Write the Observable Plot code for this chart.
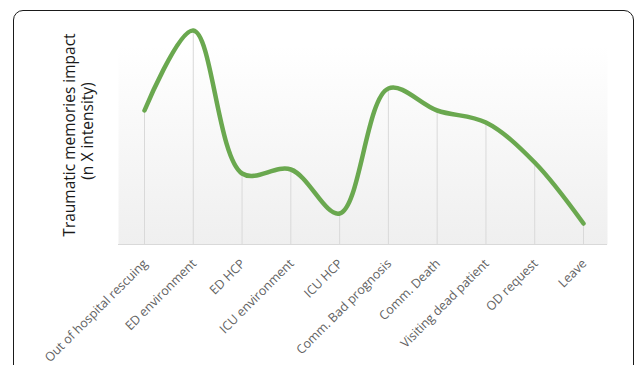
<!DOCTYPE html>
<html>
<head>
<meta charset="utf-8">
<script src="https://cdn.jsdelivr.net/npm/d3@7"></script>
<script src="https://cdn.jsdelivr.net/npm/@observablehq/plot@0.6"></script>
<style>
  html, body { margin: 0; padding: 0; background: #fff; overflow: hidden; }
  #wrap { position: relative; width: 637px; height: 365px; overflow: hidden; }
  #border { position: absolute; left: 13px; top: 10px; width: 621px; height: 420px;
            border: 1.6px solid #1a1a1a; border-radius: 10px; box-sizing: border-box; pointer-events: none; }
  #chart { position: absolute; left: 0; top: 0; }
</style>
</head>
<body>
<div id="wrap">
  <div id="chart"></div>
  <div id="border"></div>
</div>
<script>
const categories = [
  "Out of hospital rescuing", "ED environment", "ED HCP", "ICU environment", "ICU HCP",
  "Comm. Bad prognosis", "Comm. Death", "Visiting dead patient", "OD request", "Leave"
];
const impact = [134, 214, 71, 75, 31, 156, 134, 122, 82, 21];
const yTitle = ["Traumatic memories impact", "(n X intensity)"];

const data = categories.map((c, i) => ({category: c, value: impact[i]}));

const plot = Plot.plot({
  width: 637,
  height: 365,
  marginLeft: 118,
  marginRight: 30,
  marginTop: 45,
  marginBottom: 121,
  style: {background: "transparent", fontFamily: "'Open Sans', sans-serif"},
  x: {type: "point", domain: categories, range: [144, 583], padding: 0, round: false, axis: null},
  y: {domain: [0, 214], range: [244, 30], axis: null},
  marks: [
    Plot.frame({fill: "url(#panelGrad)", stroke: null}),
    Plot.ruleY([0], {stroke: "#d9d9d9", strokeWidth: 1}),
    Plot.ruleX(data, {x: "category", y1: 0, y2: "value", stroke: "#d9d9d9", strokeWidth: 1}),
    Plot.line(data, {x: "category", y: "value", curve: "catmull-rom", stroke: "#6aa84f", strokeWidth: 4.5, strokeLinecap: "round", strokeLinejoin: "round"}),
    Plot.text(data, {x: "category", y: 0, text: "category", rotate: -45, textAnchor: "end", dx: 1, dy: 17, fontSize: 12.5, fill: "#626262"}),
    Plot.text([yTitle[0]], {frameAnchor: "left", text: d => d, rotate: -90, dx: -48, dy: -10, fontSize: 15.5, fill: "#1a1a1a", textAnchor: "middle"}),
    Plot.text([yTitle[1]], {frameAnchor: "left", text: d => d, rotate: -90, dx: -30, dy: -14, fontSize: 15.5, fill: "#1a1a1a", textAnchor: "middle"})
  ]
});

const svg = d3.select(plot);
const defs = svg.insert("defs", ":first-child");
const g = defs.append("linearGradient").attr("id", "panelGrad").attr("x1", 0).attr("y1", 0).attr("x2", 0).attr("y2", 1);
g.append("stop").attr("offset", "0%").attr("stop-color", "#ffffff");
g.append("stop").attr("offset", "100%").attr("stop-color", "#efefef");

document.getElementById("chart").appendChild(plot);
</script>
</body>
</html>
